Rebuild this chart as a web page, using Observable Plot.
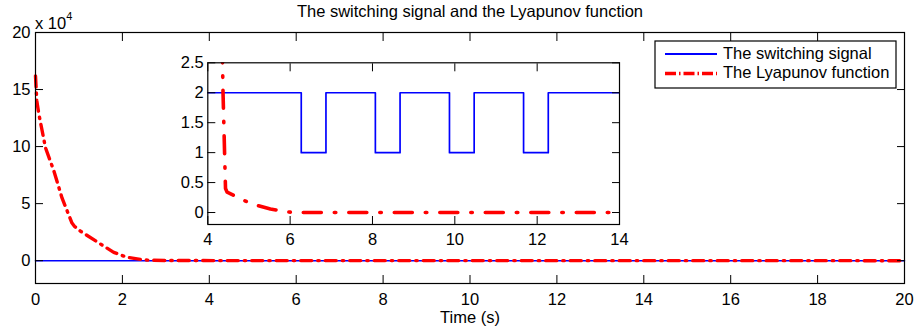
<!DOCTYPE html>
<html>
<head>
<meta charset="utf-8">
<script src="https://cdn.jsdelivr.net/npm/d3@7"></script>
<script src="https://cdn.jsdelivr.net/npm/@observablehq/plot@0.6"></script>
<style>
  html, body { margin: 0; padding: 0; background: #fff; }
  #wrap { position: relative; width: 914px; height: 331px; font-family: "Liberation Sans", Arial, Helvetica, sans-serif; color: #000; }
  #wrap > * { position: absolute; }
  .title { top: 1px; text-align: center; font-size: 16.5px; line-height: 20px; }
  .exp { left: 35px; top: 8px; font-size: 16.5px; line-height: 20px; }
  .exp sup { font-size: 11px; position: relative; top: -2px; }
</style>
</head>
<body>
<div id="wrap"></div>
<script>
// ---- data ----
const titleText = "The switching signal and the Lyapunov function";
const xLabel = "Time (s)";
const legendLabels = ["The switching signal", "The Lyapunov function"];

const mainTicksX = [0, 2, 4, 6, 8, 10, 12, 14, 16, 18, 20];
const mainTicksY = [0, 5, 10, 15, 20];
const insetTicksX = [4, 6, 8, 10, 12, 14];
const insetTicksY = [0, 0.5, 1, 1.5, 2, 2.5];

// switching signal (step-after)
const switchTimes  = [0, 6.27, 6.87, 8.07, 8.67, 9.87, 10.47, 11.67, 12.27, 20];
const switchValues = [2, 1, 2, 1, 2, 1, 2, 1, 2, 2];

// Lyapunov function, main axes (units of 1e4)
const lyapTimes  = [0, 0.03, 0.08, 0.23, 0.42, 0.61, 0.84, 0.9, 1.03, 1.5, 1.8, 2.1, 2.5, 3.0, 20];
const lyapValues = [16.2, 14.0, 12.8, 9.9, 7.9, 5.5, 3.3, 3.0, 2.6, 1.45, 0.73, 0.3, 0.06, 0.01, 0];

// Lyapunov function, inset
const insetTimes  = [4.35, 4.37, 4.40, 4.43, 4.47, 4.8, 5.04, 5.3, 5.52, 5.75, 5.93, 6.2, 14];
const insetValues = [2.8, 2.0, 1.2, 0.40, 0.34, 0.23, 0.15, 0.10, 0.06, 0.03, 0.01, 0.0, 0];

// ---- build ----
const font = "'Liberation Sans', Arial, Helvetica, sans-serif";
const BLUE = "#0000ff", RED = "#ff0000";
const switchData = switchTimes.map((t, i) => ({t, v: switchValues[i]}));
const lyapData = lyapTimes.map((t, i) => ({t, v: lyapValues[i]}));
const insetData = insetTimes.map((t, i) => ({t, v: insetValues[i]}));
const blank = () => "";
const plain = d => String(d);

const wrap = document.getElementById("wrap");

const main = Plot.plot({
  width: 914, height: 331,
  marginLeft: 35, marginRight: 10, marginTop: 32, marginBottom: 48,
  style: {fontFamily: font, fontSize: "16.5px", color: "#000", background: "transparent", overflow: "visible"},
  x: {domain: [0, 20]},
  y: {domain: [-2, 20]},
  marks: [
    Plot.line(switchData, {x: "t", y: d => d.v / 1e4, curve: "step-after", stroke: BLUE, strokeWidth: 1.6}),
    Plot.line(lyapData, {x: "t", y: "v", stroke: RED, strokeWidth: 3.4, strokeDasharray: "11,6,1.5,6"}),
    Plot.axisX(mainTicksX, {anchor: "bottom", tickSize: -8, tickPadding: 17.5, tickFormat: plain, label: null}),
    Plot.axisX(mainTicksX, {anchor: "top", tickSize: -8, tickFormat: blank, label: null}),
    Plot.axisY(mainTicksY, {anchor: "left", tickSize: -8, tickPadding: 13, tickFormat: plain, label: null}),
    Plot.axisY(mainTicksY, {anchor: "right", tickSize: -8, tickFormat: blank, label: null}),
    Plot.text([xLabel], {frameAnchor: "bottom", lineAnchor: "top", dy: 28, text: d => d}),
    Plot.frame({stroke: "#000", strokeWidth: 1.2})
  ]
});
main.style.left = "0px"; main.style.top = "0px";
wrap.appendChild(main);

const inset = Plot.plot({
  width: 470, height: 200,
  marginLeft: 47.3, marginRight: 11, marginTop: 12.3, marginBottom: 26,
  style: {fontFamily: font, fontSize: "16.5px", color: "#000", background: "transparent", overflow: "visible"},
  x: {domain: [4, 14]},
  y: {domain: [-0.2, 2.5]},
  marks: [
    Plot.frame({fill: "#fff"}),
    Plot.line(switchData.filter(d => d.t <= 14).concat([{t: 14, v: 2}]), {x: "t", y: "v", curve: "step-after", stroke: BLUE, strokeWidth: 1.7, clip: true}),
    Plot.line(insetData, {x: "t", y: "v", stroke: RED, strokeWidth: 3.6, strokeDasharray: "18,13,1.5,13", clip: true}),
    Plot.axisX(insetTicksX, {anchor: "bottom", tickSize: -8, tickPadding: 17, tickFormat: plain, label: null}),
    Plot.axisX(insetTicksX, {anchor: "top", tickSize: -8, tickFormat: blank, label: null}),
    Plot.axisY(insetTicksY, {anchor: "left", tickSize: -8, tickPadding: 12, tickFormat: plain, label: null}),
    Plot.axisY(insetTicksY, {anchor: "right", tickSize: -8, tickFormat: blank, label: null}),
    Plot.frame({stroke: "#000", strokeWidth: 1.2})
  ]
});
inset.style.left = "160px"; inset.style.top = "50px";
wrap.appendChild(inset);

// title and exponent
const title = document.createElement("div");
title.className = "title"; title.style.width = "914px"; title.style.left = "13px";
title.textContent = titleText;
wrap.appendChild(title);
const exp = document.createElement("div");
exp.className = "exp";
exp.innerHTML = "x 10<sup>4</sup>";
wrap.appendChild(exp);

// legend
const leg = d3.create("svg").attr("width", 243).attr("height", 49)
  .style("left", "654px").style("top", "40px").style("overflow", "visible");
leg.append("rect").attr("x", 1).attr("y", 1).attr("width", 241).attr("height", 47)
  .attr("fill", "#fff").attr("stroke", "#000").attr("stroke-width", 1.2);
const styles = [
  {stroke: BLUE, width: 1.8, dash: null},
  {stroke: RED, width: 3.4, dash: "11,3,1.5,3"}
];
legendLabels.forEach((lab, i) => {
  const y = 14 + i * 19.5;
  const s = styles[i];
  leg.append("line").attr("x1", 11).attr("x2", 63).attr("y1", y).attr("y2", y)
    .attr("stroke", s.stroke).attr("stroke-width", s.width)
    .attr("stroke-dasharray", s.dash);
  leg.append("text").attr("x", 69).attr("y", y + 4.5).attr("font-family", font)
    .attr("font-size", "16.5px").attr("fill", "#000").text(lab);
});
wrap.appendChild(leg.node());
</script>
</body>
</html>
